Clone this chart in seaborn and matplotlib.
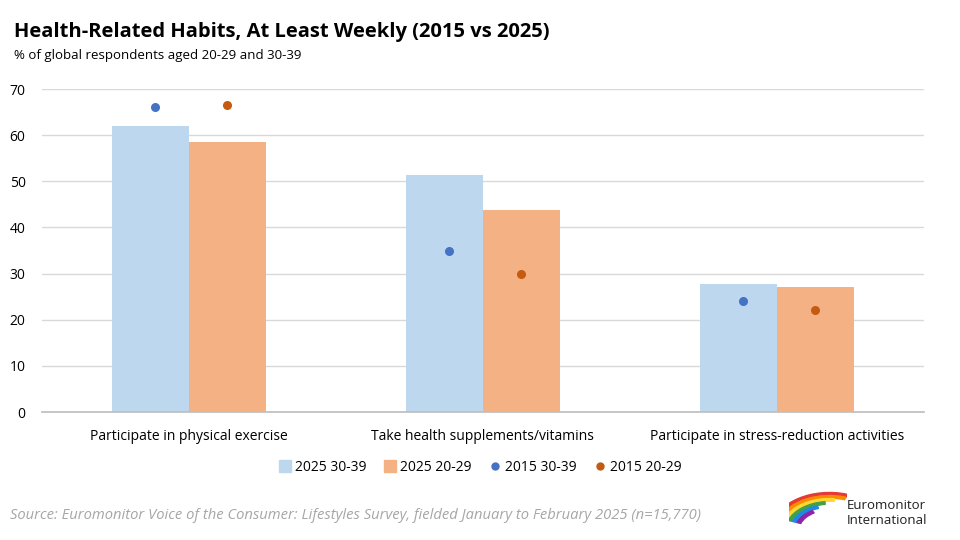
import pandas as pd
import numpy as np
import matplotlib
matplotlib.use("Agg")
import matplotlib.pyplot as plt
import seaborn as sns
from matplotlib.lines import Line2D
from matplotlib.patches import Wedge

categories = ["Participate in physical exercise",
              "Take health supplements/vitamins",
              "Participate in stress-reduction activities"]
bars_2025_30_39 = [62.0, 51.4, 27.8]
bars_2025_20_29 = [58.6, 43.7, 27.0]
dots_2015_30_39 = [66.2, 34.8, 24.0]
dots_2015_20_29 = [66.6, 30.0, 22.2]

bar_df = pd.DataFrame({
    "Habit": categories * 2,
    "Group": ["2025 30-39"] * 3 + ["2025 20-29"] * 3,
    "Value": bars_2025_30_39 + bars_2025_20_29,
})

sns.set_theme(style="white")
plt.rcParams["font.family"] = ["Open Sans", "DejaVu Sans"]
plt.rcParams["text.color"] = "black"

fig = plt.figure(figsize=(9.6, 5.4), dpi=100)
ax = fig.add_axes([0.044, 0.237, 0.918, 0.598])

bar_colors = {"2025 30-39": "#BDD7EE", "2025 20-29": "#F4B183"}
sns.barplot(data=bar_df, x="Habit", y="Value", hue="Group", palette=bar_colors,
            width=0.525, saturation=1, ax=ax, legend=False, linewidth=0)

x = np.arange(len(categories))
ax.scatter(x - 0.115, dots_2015_30_39, s=30, color="#4472C4", zorder=3)
ax.scatter(x + 0.13, dots_2015_20_29, s=30, color="#C55A11", zorder=3)

ax.set_ylim(0, 70)
ax.set_xlim(-0.5, 2.5)
ax.set_yticks(range(0, 71, 10))
ax.yaxis.grid(True, color="#D9D9D9", linewidth=1)
ax.set_axisbelow(True)
for s in ["top", "right", "left"]:
    ax.spines[s].set_visible(False)
ax.spines["bottom"].set_color("#BFBFBF")
ax.set_xlabel("")
ax.set_ylabel("")
ax.tick_params(axis="y", length=0, labelsize=10, colors="#000000", pad=12)
ax.tick_params(axis="x", length=0, labelsize=10, colors="#000000", pad=12)
ax.set_xticks([-0.5, 0.5, 1.5, 2.5], minor=True)
ax.tick_params(axis="x", which="minor", length=5, color="#BFBFBF", direction="out")

handles = [
    Line2D([], [], marker="s", linestyle="", markersize=9, color="#BDD7EE"),
    Line2D([], [], marker="s", linestyle="", markersize=9, color="#F4B183"),
    Line2D([], [], marker="o", linestyle="", markersize=5, color="#4472C4"),
    Line2D([], [], marker="o", linestyle="", markersize=5, color="#C55A11"),
]
labels = ["2025 30-39", "2025 20-29", "2015 30-39", "2015 20-29"]
fig.legend(handles, labels, loc="center", bbox_to_anchor=(0.5, 0.135), ncol=4,
           frameon=False, fontsize=10, handletextpad=0.2, columnspacing=1.2,
           handlelength=1.0, labelcolor="black")

fig.text(0.015, 0.94, "Health-Related Habits, At Least Weekly (2015 vs 2025)",
         fontsize=14.5, fontweight="bold", va="center", ha="left", color="black")
fig.text(0.015, 0.898, "% of global respondents aged 20-29 and 30-39",
         fontsize=9.5, va="center", ha="left", color="black")
fig.text(0.01, 0.046,
         "Source: Euromonitor Voice of the Consumer: Lifestyles Survey, fielded January to February 2025 (n=15,770)",
         fontsize=10.6, style="italic", color="#A6A6A6", va="center", ha="left")

# logo
lax = fig.add_axes([0.822, 0.025, 0.06, 0.07])
lax.set_xlim(0, 1)
lax.set_ylim(0, 1)
lax.axis("off")
logo_colors = ["#E53935", "#FB8C00", "#FDD835", "#43A047", "#1E88E5", "#8E24AA"]
for i, c in enumerate(logo_colors):
    lax.add_patch(Wedge((0.7, -0.1), 1.0 - i * 0.08, 60 + i * 12, 160,
                        width=0.07, color=c))
fig.text(0.882, 0.063, "Euromonitor", fontsize=9.5, color="#1F1F1F", va="center")
fig.text(0.882, 0.036, "International", fontsize=9.5, color="#1F1F1F", va="center")

plt.savefig("out.png", dpi=100)
